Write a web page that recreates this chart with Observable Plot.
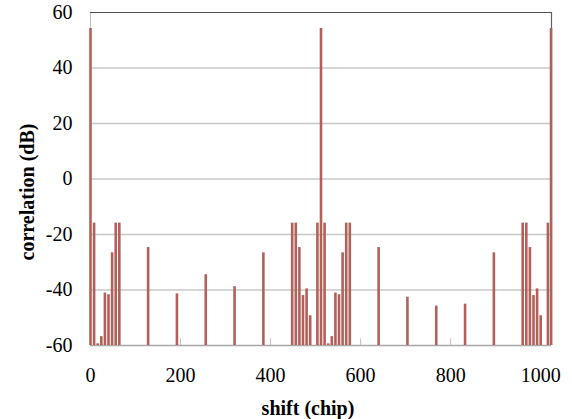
<!DOCTYPE html>
<html>
<head>
<meta charset="utf-8">
<script src="https://cdn.jsdelivr.net/npm/d3@7"></script>
<script src="https://cdn.jsdelivr.net/npm/@observablehq/plot@0.6"></script>
<style>
  html, body { margin: 0; padding: 0; background: #fff; }
</style>
</head>
<body>
<div id="chart"></div>
<script>
// shift positions (chip) and correlation values (dB)
const shifts = [0, 8, 16, 24, 32, 40, 48, 56, 64, 128, 192, 256, 320, 384,
  448, 456, 464, 472, 480, 488, 504, 512, 520, 528, 536, 544, 552, 560, 568, 576,
  640, 704, 768, 832, 896, 960, 968, 976, 984, 992, 1000, 1016, 1023];
const values = [54.2, -15.9, -59.4, -56.8, -41.1, -41.7, -26.6, -15.9, -15.9, -24.7, -41.4, -34.5, -38.8, -26.6,
  -15.9, -15.9, -24.7, -42.0, -39.6, -49.3, -15.9, 54.2, -15.9, -59.4, -56.8, -41.1, -41.7, -26.6, -15.9, -15.9,
  -24.7, -42.6, -45.8, -45.1, -26.6, -15.9, -15.9, -24.7, -42.0, -39.6, -49.3, -15.9, 54.2];
const xTicks = [0, 200, 400, 600, 800, 1000];
const yTicks = [-60, -40, -20, 0, 20, 40, 60];
const gridVals = [-40, -20, 0, 20, 40];
const minorTicks = [200, 400, 600, 800];
const xLabel = "shift (chip)";
const yLabel = "correlation (dB)";

const data = shifts.map((s, i) => ({shift: s, value: values[i]}));
const fmt = d => String(d);

const chart = Plot.plot({
  width: 572,
  height: 419,
  marginLeft: 90,
  marginRight: 21,
  marginTop: 12,
  marginBottom: 74,
  style: {fontFamily: "'Liberation Serif', 'Times New Roman', serif", fontSize: "20px", background: "#fff", color: "#000"},
  x: {domain: [0, 1024]},
  y: {domain: [-60, 60]},
  marks: [
    Plot.ruleY(gridVals, {stroke: "#c8c8c8", strokeWidth: 1.3}),
    Plot.ruleX([0], {stroke: "#c0c0c0", strokeWidth: 1}),
    Plot.ruleY([60], {stroke: "#505050", strokeWidth: 1.2}),
    Plot.ruleX([1024], {stroke: "#606060", strokeWidth: 1.2}),
    Plot.ruleX(minorTicks, {y1: -60, y2: -57.6, stroke: "#c0c0c0", strokeWidth: 1}),
    Plot.ruleY([-60], {stroke: "#a8a8a8", strokeWidth: 1.3}),
    Plot.ruleX(data, {x: "shift", y1: -60, y2: "value", stroke: "#b2605a", strokeWidth: 2.6}),
    Plot.axisX(xTicks, {tickSize: 0, tickPadding: 22, label: null, fontSize: 20, tickFormat: fmt}),
    Plot.axisY(yTicks, {tickSize: 0, tickPadding: 18, label: null, fontSize: 20, tickFormat: fmt}),
    Plot.text([xLabel], {frameAnchor: "bottom", textAnchor: "middle", lineAnchor: "middle", dx: -13, dy: 63, fontWeight: "bold", fontSize: 20}),
    Plot.text([yLabel], {frameAnchor: "left", textAnchor: "middle", lineAnchor: "middle", rotate: -90, dx: -63, dy: 13, fontWeight: "bold", fontSize: 20})
  ]
});
document.getElementById("chart").appendChild(chart);
</script>
</body>
</html>
